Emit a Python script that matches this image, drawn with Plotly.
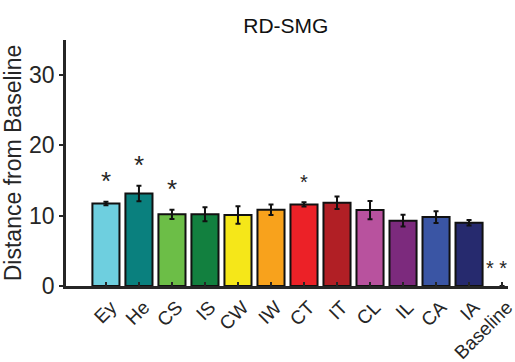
import plotly.graph_objects as go

# Conditions and their mean distance from baseline (with SEM)
categories = ["Ey", "He", "CS", "IS", "CW", "IW", "CT", "IT", "CL", "IL", "CA", "IA", "Baseline"]
means = [11.75, 13.15, 10.2, 10.2, 10.1, 10.85, 11.6, 11.85, 10.8, 9.3, 9.8, 9.0, 0.0]
sems = [0.25, 1.1, 0.65, 1.0, 1.25, 0.75, 0.3, 0.9, 1.3, 0.85, 0.85, 0.4, 0.0]
colors = ["#6ECFDF", "#0A807E", "#6CBE47", "#12803F", "#F5E719", "#F8A21C",
          "#EC2127", "#B11F25", "#B8529E", "#7C2A7D", "#3A55A4", "#262A6E", "#FFFFFF"]

# Significance markers: big stars and small stars
sig_big = ["Ey", "He", "CS"]
sig_small = ["CT"]
sig_baseline = "* *"

FONT = "Arial, Liberation Sans, sans-serif"
INK = "#262626"
STAR_GAP = 2.6

# no outline on empty bars
outline_w = [2 if m > 0 else 0 for m in means]

fig = go.Figure()
fig.add_trace(go.Bar(
    x=categories, y=means,
    marker=dict(color=colors, line=dict(color="#111111", width=outline_w)),
    width=0.82,
    error_y=dict(type="data", array=sems, color="#111111", thickness=2, width=2.5),
    showlegend=False,
))

lookup = dict(zip(categories, zip(means, sems)))
big_y = [lookup[c][0] + lookup[c][1] + STAR_GAP for c in sig_big]
small_y = [lookup[c][0] + lookup[c][1] + STAR_GAP for c in sig_small]

fig.add_trace(go.Scatter(
    x=sig_big, y=big_y, mode="text", text=["*"] * len(sig_big),
    textposition="middle center",
    textfont=dict(family=FONT, size=26, color=INK), showlegend=False,
))
fig.add_trace(go.Scatter(
    x=sig_small, y=small_y, mode="text", text=["*"] * len(sig_small),
    textposition="middle center",
    textfont=dict(family=FONT, size=20, color=INK), showlegend=False,
))
fig.add_annotation(
    x="Baseline", y=lookup["Baseline"][0] + STAR_GAP, text=sig_baseline,
    showarrow=False, xshift=-6,
    font=dict(family=FONT, size=20, color=INK),
)

fig.update_layout(
    width=515, height=362,
    margin=dict(l=66, r=7, t=40, b=76),
    paper_bgcolor="white", plot_bgcolor="white",
    font=dict(family=FONT, color=INK),
    title=dict(text="RD-SMG", x=0.555, xanchor="center", y=0.93, yanchor="middle",
               font=dict(family=FONT, size=21, color="#111111")),
    bargap=0.18,
)
fig.update_xaxes(
    type="category", categoryorder="array", categoryarray=categories,
    range=[-1.21, 12.18], automargin=False,
    showline=True, linecolor=INK, linewidth=2.5,
    ticks="inside", ticklen=4, tickwidth=1.5, tickcolor=INK,
    tickangle=-45, tickfont=dict(family=FONT, size=19, color=INK),
    ticklabelshift=5,
    showgrid=False, zeroline=False,
)
fig.update_yaxes(
    range=[0, 35], tickvals=[0, 10, 20, 30], automargin=False,
    showline=True, linecolor=INK, linewidth=2.5,
    ticks="outside", ticklen=4, tickwidth=1.5, tickcolor=INK,
    tickfont=dict(family=FONT, size=23, color=INK),
    title=dict(text="Distance from Baseline", standoff=4,
               font=dict(family=FONT, size=23, color=INK)),
    showgrid=False, zeroline=False,
)

fig.write_html("out.html")
